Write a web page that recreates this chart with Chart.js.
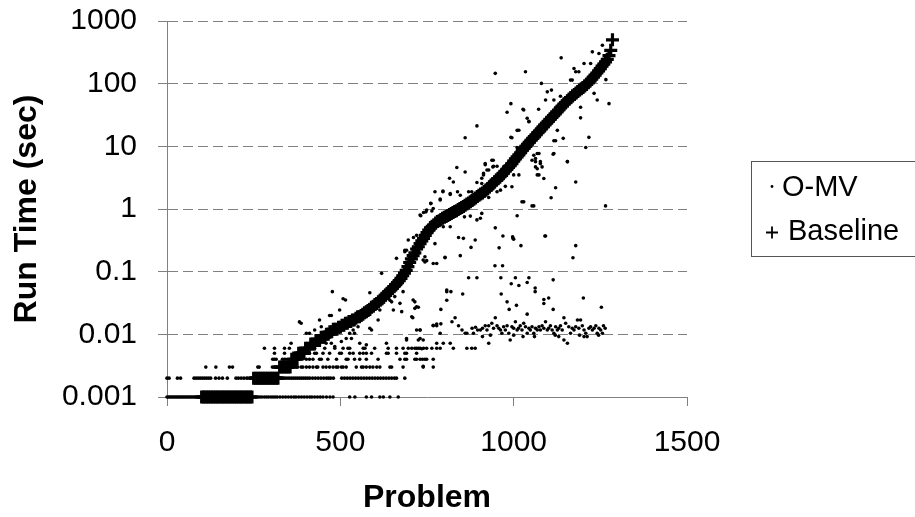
<!DOCTYPE html>
<html>
<head>
<meta charset="utf-8">
<title>Run time per problem</title>
<script src="https://cdn.jsdelivr.net/npm/chart.js@4.4.0/dist/chart.umd.min.js"></script>
<style>
  html, body { margin: 0; padding: 0; background: #fff; }
  canvas { display: block; }
</style>
</head>
<body>
<canvas id="runtime-chart" width="915" height="517"></canvas>
<script>
// axis ticks
var xTickValues = [0, 500, 1000, 1500];
var xTickLabels = ["0", "500", "1000", "1500"];
var yTickValues = [0.001, 0.01, 0.1, 1, 10, 100, 1000];
var yTickLabels = ["0.001", "0.01", "0.1", "1", "10", "100", "1000"];

// Baseline: run time (sec) for problems 100, 105, 110 ... 1285
var baselineStart = 100;
var baselineStep = 5;
var baselineTimes = [
	0.001, 0.001, 0.001, 0.001, 0.001, 0.001, 0.001, 0.001, 0.001, 0.001,
	0.001, 0.001, 0.001, 0.001, 0.001, 0.001, 0.001, 0.001, 0.001, 0.001,
	0.001, 0.001, 0.001, 0.001, 0.001, 0.001, 0.001, 0.001, 0.001, 0.001,
	0.002, 0.002, 0.002, 0.002, 0.002, 0.002, 0.002, 0.002, 0.002, 0.002,
	0.002, 0.002, 0.002, 0.002, 0.002,
	0.003, 0.003, 0.003, 0.003, 0.003, 0.003, 0.003,
	0.004, 0.004, 0.004, 0.004, 0.005, 0.005, 0.005, 0.005, 0.006, 0.006,
	0.006, 0.007, 0.007, 0.007, 0.008, 0.008, 0.008, 0.009, 0.009, 0.009,
	0.010, 0.010, 0.011, 0.011, 0.012, 0.012, 0.012, 0.013, 0.013, 0.014,
	0.014, 0.015, 0.015, 0.016, 0.016, 0.017, 0.017, 0.018, 0.019, 0.019,
	0.020, 0.021, 0.022, 0.023, 0.024, 0.025, 0.027, 0.028, 0.030, 0.031,
	0.033, 0.035, 0.037, 0.039, 0.042, 0.045, 0.048, 0.051, 0.054, 0.058,
	0.062, 0.067, 0.072, 0.078, 0.086, 0.095, 0.105, 0.12, 0.14, 0.16,
	0.18, 0.20, 0.23, 0.25, 0.28, 0.31, 0.34, 0.38, 0.42, 0.46,
	0.50, 0.53, 0.56, 0.60, 0.63, 0.65, 0.68, 0.71, 0.74, 0.76,
	0.79, 0.82, 0.85, 0.88, 0.91, 0.94, 0.98, 1.02, 1.06, 1.10,
	1.15, 1.20, 1.25, 1.31, 1.37, 1.43, 1.50, 1.58, 1.65, 1.73,
	1.80, 1.90, 2.0, 2.1, 2.25, 2.4, 2.55, 2.7, 2.9, 3.05,
	3.25, 3.45, 3.7, 4.0, 4.3, 4.6, 4.9, 5.3, 5.8, 6.3,
	6.8, 7.3, 7.9, 8.6, 9.3, 10.0, 10.8, 11.6, 12.5, 13.4,
	14.3, 15.3, 16.5, 17.7, 19, 20.5, 22, 23.5, 25, 27,
	29, 31, 33, 35.5, 38, 41, 44, 47, 50, 53,
	57, 60, 64, 67, 71, 75, 79, 83, 87, 92,
	97, 103, 110, 118, 127, 137, 148, 160, 174, 190,
	205, 222, 245, 280, 340, 500
];

// O-MV: problems that finish at the timer floor values
var omvRowTimes = [0.001, 0.002, 0.003, 0.004, 0.005, 0.006];
var omvRow1ms = [0, 4, 8, 12, 16, 20, 24, 28, 32, 36, 40, 44, 48, 52, 56, 60, 64, 68, 72, 76, 80, 84, 88, 92, 96,
	256, 262, 268, 274, 281, 287, 293, 300, 306, 312, 318, 326, 334, 342, 350, 358, 366, 372, 380, 388, 396,
	404, 412, 418, 426, 434, 442, 450, 460, 470, 479, 527, 542, 575, 590, 614, 624, 643, 667];
var omvRow2ms = [0, 6, 30, 39, 78, 84, 90, 96, 102, 108, 114, 120, 126, 140, 150, 160, 174, 199, 206, 214, 222, 230, 242,
	322, 328, 334, 340, 346, 352, 358, 364, 370, 376, 382, 388, 394, 400, 406, 412, 420, 428, 436, 444, 452, 460,
	466, 472, 480, 504, 512, 520, 528, 536, 544, 552, 560, 568, 576, 584, 592, 600, 608, 616, 624, 632, 640, 648,
	656, 662, 686];
var omvRow3ms = [112, 141, 180, 189, 262, 266, 304, 310, 315, 345, 363, 373, 377, 387, 392, 402, 411, 421, 431, 435,
	450, 459, 469, 479, 488, 493, 503, 508, 517, 546, 561, 566, 575, 585, 594, 605, 614, 643, 648, 681, 739, 768];
var omvRow4ms = [305, 310, 315, 333, 339, 373, 402, 411, 421, 440, 445, 464, 489, 517, 522, 541, 556, 575, 609, 672,
	686, 691, 715, 720, 730, 737, 744, 749, 768];
var omvRow5ms = [310, 339, 373, 392, 411, 426, 431, 450, 469, 498, 503, 527, 537, 556, 566, 575, 590, 633, 638, 662,
	686, 691, 720];
var omvRow6ms = [281, 310, 339, 353, 397, 426, 455, 484, 508, 522, 527, 566, 571, 599, 638, 662, 681, 696, 706, 715,
	720, 725, 730, 740, 749, 764, 778, 788, 826, 865, 879, 889];

// O-MV: [problem, seconds] in the cluster around 0.01 s
var omvLowCluster = [
	[768, .0137], [778, .0137], [790, .0147], [822, .0159], [831, .0184], [841, .0137], [851, .0117], [860, .0104],
	[904, .0117], [918, .0137], [928, .0137], [937, .015], [947, .0184], [952, .0137], [962, .0117], [966, .0104],
	[981, .0137], [986, .0104], [995, .0132], [1005, .0159], [1010, .0117], [1019, .0137], [1029, .015], [1039, .0104],
	[1048, .0117], [1058, .0104], [1068, .0117], [1082, .0137], [1092, .0159], [1097, .0117], [1106, .0137], [1116, .0104],
	[1126, .0117], [1135, .0137], [1145, .0184], [1150, .015], [1159, .0132], [1164, .0104], [1174, .0117], [1184, .0169],
	[1193, .0169], [1198, .0137], [1208, .0104], [1212, .0092], [1222, .0132], [1237, .0137], [1241, .0104], [1256, .0104],
	[1259, .0137], [1145, .0081], [1155, .0072], [990, .0081], [933, .0097], [923, .0117], [865, .0104], [788, .0104],
	[730, .0117], [730, .0086], [691, .0086], [778, .0072], [797, .0072], [817, .0072], [928, .0072],
	[880, .0125], [890, .013], [896, .0117], [910, .0125], [942, .0125], [957, .0125], [971, .0132], [976, .0117],
	[1000, .0125], [1014, .0125], [1024, .0117], [1034, .0132], [1044, .0125], [1053, .0132], [1063, .0125], [1073, .0132],
	[1077, .0117], [1087, .0125], [1101, .0125], [1111, .0117], [1121, .0132], [1130, .0125], [1140, .0117], [1169, .0125],
	[1179, .0132], [1188, .0125], [1203, .0117], [1217, .0125], [1227, .0117], [1232, .0125], [1246, .0125], [1251, .0117],
	[1264, .0125], [1120, .0097], [1130, .0092], [1190, .0097], [1203, .0092], [1000, .0097], [1027, .0092], [910, .0092],
	[884, .0104], [1060, .0092], [1245, .0097]
];

// O-MV: [problem, seconds] scattered off the baseline curve
var omvScatter = [
	[358, .0072], [382, .0158], [387, .015], [402, .0104], [411, .0104], [426, .0117], [440, .0169], [445, .0132],
	[459, .0072], [469, .020], [474, .020], [474, .0072], [484, .0064], [477, .048], [488, .0117], [498, .0244],
	[508, .037], [515, .0353], [503, .0077], [517, .0086], [527, .0104], [532, .0086], [537, .0117], [541, .0104],
	[551, .0132], [556, .0072], [575, .0068], [585, .046], [585, .0125], [590, .0117], [595, .0244], [599, .026],
	[609, .0169], [614, .0244], [633, .0072], [648, .033], [653, .0244], [657, .040], [662, .163], [672, .0312],
	[677, .023], [681, .048], [686, .208], [691, .0081], [706, .0191], [710, .0353], [715, .026], [720, .0117],
	[725, .0081], [730, .0117], [739, .0031], [749, .15], [735, .0059], [720, .0276], [739, .0081], [619, .094],
	[744, .143], [768, .135], [778, .135], [802, .17], [807, .048], [807, .035], [768, .014], [778, .0146], [643, .035],
	[836, 4.6], [860, 3.9], [815, 3.1], [826, 2.7], [773, 1.88], [796, 1.88], [817, 1.7], [788, 1.39],
	[761, 1.22], [747, 0.90], [740, 0.88], [732, 0.78], [768, 1.02], [711, 0.35], [696, 0.32], [686, 0.22],
	[720, 0.38], [838, 1.88], [846, 1.66], [870, 1.88], [879, 1.88], [894, 2.65], [913, 3.5], [928, 4.2],
	[918, 5.1], [937, 6.0], [952, 4.8], [908, 2.55], [971, 4.7], [995, 2.26], [1000, 3.5], [1015, 3.5],
	[1058, 7.2], [1073, 7.7], [1063, 5.7], [1077, 5.3], [1082, 4.7], [1068, 4.4], [1073, 3.5], [1087, 3.07],
	[1114, 7.5], [1155, 5.7], [1179, 2.7], [1121, 2.18], [1108, 1.51], [1053, 1.12], [1058, 1.12], [1029, 1.30],
	[1010, 0.78], [1090, 0.37], [1179, 0.26], [1171, 0.167], [1265, 1.12], [947, 0.50], [969, 0.37], [958, 0.24],
	[998, 0.34], [1000, 0.33], [1021, 0.26], [946, 0.124], [968, 0.124], [870, 0.080], [894, 0.080], [963, 0.080],
	[1005, 0.080], [1044, 0.080], [1039, 0.067], [993, 0.064], [1015, 0.060], [1062, 0.055], [1062, 0.048], [964, 0.044],
	[853, 0.044], [807, 0.051], [819, 0.048], [1101, 0.038], [1114, 0.074], [1087, 0.036], [1087, 0.031], [1008, 0.029],
	[981, 0.033], [987, 0.025], [1039, 0.021], [1114, 0.025], [1201, 0.038], [1253, 0.027], [790, 0.025], [725, 0.027],
	[715, 0.033], [709, 0.0184],
	[817, 0.52], [797, 0.52], [773, 0.28], [744, 0.173], [739, 0.153], [802, 0.167], [846, 0.18], [855, 0.34],
	[841, 0.35], [889, 0.32], [877, 0.244], [904, 0.71], [894, 0.67], [908, 0.85], [875, 0.77], [858, 0.75],
	[879, 1.39], [928, 1.53], [952, 1.88], [962, 2.0], [966, 2.9], [976, 2.3], [942, 4.8], [923, 4.2],
	[913, 3.7], [908, 3.1], [796, 1.93], [817, 1.77], [788, 1.44], [761, 1.23], [749, 0.96], [730, 0.80],
	[764, 0.93], [691, 0.22], [1024, 1.30], [1092, 0.37], [997, 0.36], [981, 35], [1029, 38], [1044, 24.7],
	[894, 21.2], [860, 13.7], [995, 13.7], [1015, 18.1], [1010, 9.6], [1077, 5.7], [1068, 7.7], [1068, 3.5],
	[1137, 258], [1034, 155], [947, 146], [1203, 210], [1222, 210], [1227, 322], [1246, 303], [1256, 411],
	[1174, 175], [1179, 155], [1188, 155], [1164, 114], [1169, 114], [1080, 101], [1097, 74], [1109, 79],
	[1092, 55], [1116, 55], [1072, 39], [1027, 39], [1039, 28], [1044, 25], [1135, 63], [1193, 42],
	[1193, 28.5], [1241, 55], [1275, 48], [1266, 116], [1232, 70], [1217, 13.9], [1208, 9.6], [1155, 5.7],
	[1116, 7.7], [1116, 12.3], [1121, 12.3], [1143, 13.4], [1063, 6.4], [1063, 4.7], [1053, 6.0], [1126, 18],
	[992, 48], [992, 13.9], [918, 5.3], [941, 6.0], [940, 4.7], [1010, 18]
];

var FONT = "'Liberation Sans', Arial, Helvetica, sans-serif";
Chart.defaults.font.family = FONT;
Chart.defaults.color = "#000";

// build the point lists
var baselinePoints = baselineTimes.map(function(t, i) {
	return { x: baselineStart + i * baselineStep, y: t };
});

var omvPoints = [];
[omvRow1ms, omvRow2ms, omvRow3ms, omvRow4ms, omvRow5ms, omvRow6ms].forEach(function(row, r) {
	row.forEach(function(p) {
		omvPoints.push({ x: p, y: omvRowTimes[r] });
	});
});
omvLowCluster.concat(omvScatter).forEach(function(pt) {
	omvPoints.push({ x: pt[0], y: pt[1] });
});

// legend box on the right, drawn by hand like the original
var sideLegend = {
	id: "sideLegend",
	afterDraw: function(chart) {
		var ctx = chart.ctx;
		var sets = chart.data.datasets;
		ctx.save();
		ctx.strokeStyle = "#555";
		ctx.lineWidth = 1;
		ctx.strokeRect(751.5, 161.5, 200, 95);

		ctx.fillStyle = "#000";
		ctx.beginPath();
		ctx.arc(772, 186.5, 1.4, 0, Math.PI * 2);
		ctx.fill();

		ctx.strokeStyle = "#000";
		ctx.lineWidth = 1.8;
		ctx.beginPath();
		ctx.moveTo(766, 232.5);
		ctx.lineTo(778, 232.5);
		ctx.moveTo(772, 226.5);
		ctx.lineTo(772, 238.5);
		ctx.stroke();

		ctx.font = "29px " + FONT;
		ctx.textAlign = "left";
		ctx.textBaseline = "alphabetic";
		ctx.fillText(sets[0].label, 782, 196);
		ctx.fillText(sets[1].label, 788, 240);
		ctx.restore();
	}
};

// keep the tick-label overhang from pushing the plot area in
function noOverhang(scale) {
	scale.paddingTop = 0;
	scale.paddingBottom = 0;
	scale.paddingLeft = 0;
	scale.paddingRight = 0;
}

var ctx = document.getElementById("runtime-chart");

var chart = new Chart(ctx, {
	type: "scatter",
	data: {
		datasets: [
			{
				label: "O-MV",
				data: omvPoints,
				pointStyle: "circle",
				pointRadius: 1.8,
				pointBorderWidth: 0,
				backgroundColor: "#000",
				borderColor: "#000",
				clip: false
			},
			{
				label: "Baseline",
				data: baselinePoints,
				pointStyle: "cross",
				pointRadius: 6.5,
				pointBorderWidth: 3.2,
				backgroundColor: "#000",
				borderColor: "#000",
				clip: false
			}
		]
	},
	options: {
		responsive: false,
		animation: false,
		events: [],
		layout: {
			padding: { left: 0, top: 21, right: 228, bottom: 0 }
		},
		plugins: {
			legend: { display: false },
			tooltip: { enabled: false }
		},
		scales: {
			x: {
				type: "linear",
				min: xTickValues[0],
				max: xTickValues[xTickValues.length - 1],
				afterBuildTicks: function(scale) {
					scale.ticks = xTickValues.map(function(v) { return { value: v }; });
				},
				ticks: {
					font: { size: 30 },
					padding: 19,
					maxRotation: 0,
					callback: function(value, index) { return xTickLabels[index]; }
				},
				grid: {
					drawOnChartArea: false,
					drawTicks: true,
					tickLength: 9,
					color: "#808080",
					tickColor: "#808080"
				},
				border: { color: "#808080", width: 1 },
				title: {
					display: true,
					text: "Problem",
					font: { size: 32, weight: "bold" },
					padding: { top: 0, bottom: 0 }
				},
				afterFit: function(scale) {
					scale.height = 120;
					noOverhang(scale);
				}
			},
			y: {
				type: "logarithmic",
				min: yTickValues[0],
				max: yTickValues[yTickValues.length - 1],
				afterBuildTicks: function(scale) {
					scale.ticks = yTickValues.map(function(v) { return { value: v }; });
				},
				ticks: {
					font: { size: 30 },
					padding: 21,
					callback: function(value, index) { return yTickLabels[index]; }
				},
				grid: {
					color: function(c) { return c.index === 0 ? "rgba(0,0,0,0)" : "#808080"; },
					lineWidth: 1,
					tickLength: 9,
					tickColor: "#808080"
				},
				border: { color: "#808080", width: 1, dash: [10, 5] },
				title: {
					display: true,
					text: "Run Time (sec)",
					font: { size: 32, weight: "bold" },
					padding: { top: 8, bottom: 0 }
				},
				afterFit: function(scale) {
					scale.width = 167;
					noOverhang(scale);
				}
			}
		}
	},
	plugins: [sideLegend]
});
</script>
</body>
</html>
